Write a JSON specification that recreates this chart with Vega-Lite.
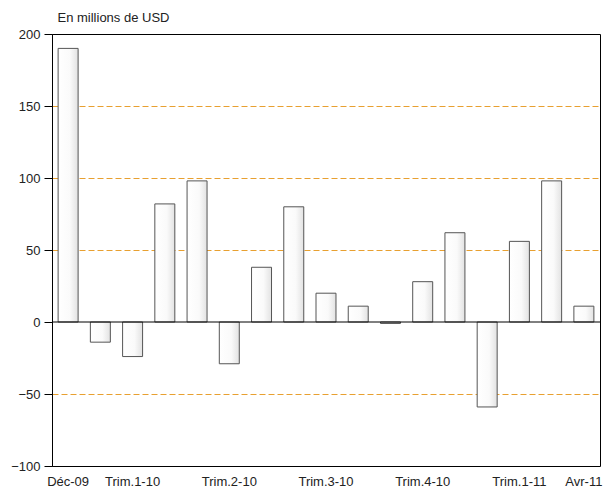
{
  "$schema": "https://vega.github.io/schema/vega-lite/v6.json",
  "width": 548,
  "height": 432,
  "autosize": {"type": "none"},
  "padding": {"left": 52, "top": 34, "right": 4, "bottom": 23},
  "background": "white",
  "config": {
    "view": {"stroke": "#000000", "strokeWidth": 1},
    "font": "Liberation Sans",
    "axisY": {
      "titleAngle": 0,
      "titleAlign": "left",
      "titleBaseline": "bottom",
      "titleX": 5,
      "titleY": -10,
      "titleFontSize": 13,
      "titleFontWeight": "normal",
      "titleColor": "#222222",
      "labelFontSize": 13,
      "labelColor": "#222222",
      "labelPadding": 4,
      "tickColor": "#000000",
      "tickSize": 8,
      "domainColor": "#000000",
      "grid": true,
      "gridColor": {
        "condition": {"test": "datum.value == 200 || datum.value == -100 || datum.value == 0", "value": "transparent"},
        "value": "#e8a030"
      },
      "gridDash": [6, 3],
      "gridWidth": 1
    }
  },
  "data": {
    "values": [
      {"mois": "Déc-09", "valeur": 190},
      {"mois": "Jan-10", "valeur": -14},
      {"mois": "Fév-10", "valeur": -24},
      {"mois": "Mar-10", "valeur": 82},
      {"mois": "Avr-10", "valeur": 98},
      {"mois": "Mai-10", "valeur": -29},
      {"mois": "Jun-10", "valeur": 38},
      {"mois": "Jul-10", "valeur": 80},
      {"mois": "Aoû-10", "valeur": 20},
      {"mois": "Sep-10", "valeur": 11},
      {"mois": "Oct-10", "valeur": -1},
      {"mois": "Nov-10", "valeur": 28},
      {"mois": "Déc-10", "valeur": 62},
      {"mois": "Jan-11", "valeur": -59},
      {"mois": "Fév-11", "valeur": 56},
      {"mois": "Mar-11", "valeur": 98},
      {"mois": "Avr-11", "valeur": 11}
    ]
  },
  "layer": [
    {
      "mark": {
        "type": "bar",
        "stroke": "#555555",
        "strokeWidth": 1,
        "color": {
          "gradient": "linear",
          "x1": 0, "x2": 1, "y1": 0, "y2": 0,
          "stops": [
            {"offset": 0, "color": "#ffffff"},
            {"offset": 0.6, "color": "#fafafa"},
            {"offset": 1, "color": "#e2e2e2"}
          ]
        }
      },
      "encoding": {
        "x": {
          "field": "mois",
          "type": "nominal",
          "sort": null,
          "scale": {"paddingInner": 0.38, "paddingOuter": 0.19},
          "axis": {
            "title": null,
            "values": ["Déc-09", "Fév-10", "Mai-10", "Aoû-10", "Nov-10", "Fév-11", "Avr-11"],
            "labelExpr": "datum.value == 'Fév-10' ? 'Trim.1-10' : datum.value == 'Mai-10' ? 'Trim.2-10' : datum.value == 'Aoû-10' ? 'Trim.3-10' : datum.value == 'Nov-10' ? 'Trim.4-10' : datum.value == 'Fév-11' ? 'Trim.1-11' : datum.value",
            "labelAngle": 0,
            "ticks": false,
            "domain": false,
            "labelFontSize": 13,
            "labelColor": "#222222",
            "labelPadding": 9,
            "labelDx": 2
          }
        },
        "y": {
          "field": "valeur",
          "type": "quantitative",
          "scale": {"domain": [-100, 200], "nice": false},
          "axis": {"values": [-100, -50, 0, 50, 100, 150, 200], "title": "En millions de USD"}
        }
      }
    },
    {
      "data": {"values": [{"zero": 0}]},
      "mark": {"type": "rule", "color": "#000000", "strokeWidth": 1},
      "encoding": {
        "y": {
          "field": "zero",
          "type": "quantitative",
          "axis": {"values": [-100, -50, 0, 50, 100, 150, 200], "title": "En millions de USD"}
        }
      }
    }
  ]
}
